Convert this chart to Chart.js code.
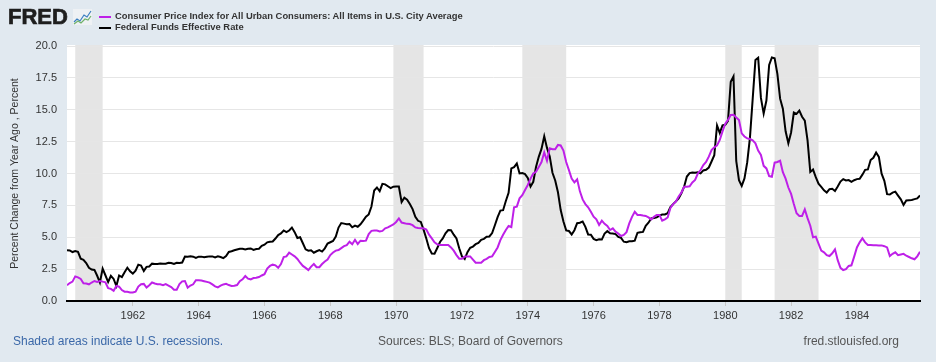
<!DOCTYPE html>
<html>
<head>
<meta charset="utf-8">
<script src="https://cdn.jsdelivr.net/npm/chart.js@4.4.1/dist/chart.umd.min.js"></script>
<style>
  html, body { margin: 0; padding: 0; background: #e1e9f0; }
  #wrap { position: relative; width: 936px; height: 362px; font-family: Arial, "Liberation Sans", sans-serif; }
  #chart { position: absolute; left: 0; top: 0; }
  .logo { position: absolute; left: 8px; top: 4px; font-size: 22px; line-height: 26px; font-weight: bold; color: #1e1e1e; -webkit-text-stroke: 0.7px #1e1e1e; }
  .icon { position: absolute; left: 73px; top: 9px; }
  .leg { position: absolute; left: 99px; font-size: 9.4px; line-height: 11px; font-weight: bold; color: #333; white-space: nowrap; }
  .leg span { display: inline-block; width: 12px; height: 2px; vertical-align: middle; margin-right: 4px; }
  .foot { position: absolute; top: 334px; font-size: 12px; white-space: nowrap; }
</style>
</head>
<body>
<div id="wrap">
  <canvas id="chart" width="936" height="362"></canvas>
  <div class="logo">FRED</div>
  <svg class="icon" width="19" height="16" viewBox="0 0 19 16">
    <rect x="0" y="0" width="19" height="16" fill="#eef1f4"/>
    <polyline points="1,13 4,10 7,12 11,6 14,8 18,2" fill="none" stroke="#3a7fc1" stroke-width="1.2"/>
    <polyline points="1,15 5,12 8,14 12,10 15,11 18,7" fill="none" stroke="#6fb26a" stroke-width="1.2"/>
  </svg>
  <div class="leg" style="top:10px"><span style="background:rgb(190,32,232)"></span>Consumer Price Index for All Urban Consumers: All Items in U.S. City Average</div>
  <div class="leg" style="top:21px"><span style="background:#000"></span>Federal Funds Effective Rate</div>
  <div class="foot" style="left:13px; color:#3b68a8">Shaded areas indicate U.S. recessions.</div>
  <div class="foot" style="left:378px; color:#555">Sources: BLS; Board of Governors</div>
  <div class="foot" style="right:37px; color:#555">fred.stlouisfed.org</div>
</div>
<script>
const startYear = 1960;

// CPI, percent change from year ago, monthly 1960-1985
const cpiYoY = [
  1.24, 1.41, 1.52, 1.93, 1.85, 1.73, 1.39, 1.37, 1.31, 1.45, 1.57, 1.50,
  1.57, 1.52, 1.46, 1.00, 0.95, 0.80, 1.18, 1.12, 0.86, 0.73, 0.73, 0.67,
  0.67, 0.73, 1.13, 1.31, 1.34, 1.05, 1.24, 1.45, 1.37, 1.31, 1.31, 1.24,
  1.32, 1.21, 1.09, 0.89, 0.89, 1.32, 1.54, 1.57, 1.05, 1.21, 1.31, 1.63,
  1.63, 1.60, 1.55, 1.50, 1.44, 1.30, 1.15, 1.07, 1.20, 1.30, 1.35, 1.25,
  1.18, 1.20, 1.25, 1.55, 1.70, 1.96, 1.75, 1.70, 1.80, 1.82, 1.88, 2.00,
  2.10, 2.55, 2.75, 2.85, 2.80, 2.60, 2.90, 3.45, 3.50, 3.79, 3.65, 3.50,
  3.30, 3.00, 2.75, 2.60, 2.43, 2.70, 2.90, 2.65, 2.65, 2.90, 3.10, 3.25,
  3.60, 3.80, 3.95, 4.00, 4.15, 4.30, 4.38, 4.65, 4.45, 4.80, 4.47, 4.73,
  4.70, 4.73, 5.25, 5.50, 5.52, 5.52, 5.45, 5.50, 5.70, 5.77, 5.90, 6.00,
  6.20, 6.48, 6.15, 6.10, 6.05, 6.04, 5.95, 5.77, 5.72, 5.70, 5.70, 5.60,
  5.20, 4.91, 4.60, 4.44, 4.40, 4.40, 4.39, 4.39, 4.20, 3.95, 3.60, 3.32,
  3.32, 3.50, 3.50, 3.50, 3.25, 3.00, 3.00, 3.00, 3.20, 3.30, 3.45, 3.50,
  3.85, 4.20, 4.78, 5.20, 5.57, 5.88, 5.80, 7.35, 7.40, 8.05, 8.30, 8.70,
  9.10, 9.60, 10.00, 10.14, 10.50, 10.90, 11.66, 11.00, 11.97, 11.90, 11.90, 12.24,
  12.20, 11.80, 10.90, 10.27, 9.60, 9.30, 9.54, 8.60, 7.97, 7.60, 7.35, 7.00,
  6.61, 6.40, 5.96, 6.30, 6.05, 5.88, 5.57, 5.70, 5.44, 5.30, 5.10, 5.18,
  5.40, 6.09, 6.60, 7.00, 6.75, 6.75, 6.70, 6.67, 6.56, 6.40, 6.60, 6.75,
  6.75, 6.30, 6.40, 6.55, 7.30, 7.60, 7.80, 8.20, 8.50, 8.96, 8.96, 9.00,
  9.30, 9.49, 10.00, 10.27, 10.66, 10.90, 11.32, 11.84, 12.05, 12.20, 12.63, 13.30,
  13.90, 14.20, 14.59, 14.60, 14.40, 14.20, 13.15, 12.90, 12.75, 12.70, 12.60, 12.37,
  11.80, 11.45, 10.60, 10.40, 9.80, 9.75, 10.85, 10.90, 11.00, 10.10, 9.60, 8.90,
  8.40, 7.60, 6.88, 6.67, 6.67, 7.19, 6.50, 5.90, 5.00, 5.05, 4.50, 3.95,
  3.82, 3.60, 3.53, 3.74, 4.05, 3.20, 2.60, 2.43, 2.50, 2.75, 2.80, 3.48,
  4.20, 4.60, 4.92, 4.60, 4.39, 4.39, 4.38, 4.37, 4.36, 4.36, 4.30, 4.20,
  3.53, 3.70, 3.82, 3.60, 3.65, 3.70, 3.55, 3.45, 3.35, 3.27, 3.50, 3.87
];

// Federal funds effective rate, percent, monthly 1960-1985
const fedFunds = [
  3.99, 3.97, 3.84, 3.92, 3.85, 3.32, 3.23, 2.98, 2.60, 2.47, 2.44, 1.98,
  1.45, 2.54, 2.02, 1.49, 1.98, 1.73, 1.17, 2.00, 1.88, 2.26, 2.61, 2.33,
  2.15, 2.37, 2.85, 2.78, 2.36, 2.68, 2.71, 2.93, 2.90, 2.90, 2.94, 2.93,
  2.92, 3.00, 2.98, 2.90, 3.00, 2.99, 3.02, 3.49, 3.48, 3.50, 3.48, 3.38,
  3.48, 3.48, 3.43, 3.47, 3.50, 3.50, 3.42, 3.50, 3.45, 3.36, 3.52, 3.85,
  3.90, 3.98, 4.04, 4.09, 4.10, 4.04, 4.09, 4.12, 4.01, 4.08, 4.10, 4.32,
  4.42, 4.60, 4.65, 4.67, 4.90, 5.17, 5.30, 5.53, 5.40, 5.53, 5.76, 5.40,
  4.94, 5.00, 4.53, 4.05, 3.94, 3.98, 3.79, 3.90, 3.99, 3.88, 4.13, 4.51,
  4.61, 4.71, 5.05, 5.76, 6.11, 6.07, 6.02, 6.03, 5.78, 5.91, 5.82, 6.02,
  6.30, 6.61, 6.79, 7.41, 8.67, 8.90, 8.61, 9.19, 9.15, 9.00, 8.85, 8.97,
  8.98, 8.98, 7.76, 8.10, 7.95, 7.61, 7.21, 6.61, 6.29, 6.20, 5.60, 4.90,
  4.14, 3.72, 3.71, 4.16, 4.63, 4.91, 5.31, 5.56, 5.55, 5.20, 4.91, 4.14,
  3.50, 3.29, 3.83, 4.17, 4.27, 4.46, 4.55, 4.80, 4.87, 5.04, 5.06, 5.33,
  5.94, 6.58, 7.09, 7.12, 7.84, 8.49, 10.40, 10.50, 10.78, 10.01, 10.03, 9.95,
  9.65, 8.97, 9.35, 10.51, 11.31, 11.93, 12.92, 12.01, 11.34, 10.06, 9.45, 8.53,
  7.13, 6.24, 5.54, 5.49, 5.22, 5.55, 6.10, 6.14, 6.24, 5.82, 5.22, 5.20,
  4.87, 4.77, 4.84, 4.82, 5.29, 5.48, 5.31, 5.29, 5.25, 5.02, 4.95, 4.65,
  4.61, 4.68, 4.69, 4.73, 5.35, 5.39, 5.42, 5.90, 6.14, 6.47, 6.51, 6.56,
  6.70, 6.78, 6.79, 6.89, 7.36, 7.60, 7.81, 8.04, 8.45, 8.96, 9.76, 10.03,
  10.07, 10.06, 10.09, 10.01, 10.24, 10.29, 10.47, 10.94, 11.43, 13.77, 13.18, 13.78,
  13.82, 14.13, 17.19, 17.61, 10.98, 9.47, 9.03, 9.61, 10.87, 12.81, 15.85, 18.90,
  19.08, 15.93, 14.70, 15.72, 18.52, 19.10, 19.04, 17.82, 15.87, 15.08, 13.31, 12.37,
  13.22, 14.78, 14.68, 14.94, 14.45, 14.15, 12.59, 10.12, 10.31, 9.71, 9.20, 8.95,
  8.68, 8.51, 8.77, 8.80, 8.63, 8.98, 9.37, 9.56, 9.45, 9.48, 9.34, 9.47,
  9.56, 9.59, 9.91, 10.29, 10.32, 11.06, 11.23, 11.64, 11.30, 9.99, 9.43, 8.38,
  8.35, 8.50, 8.58, 8.27, 7.97, 7.53, 7.88, 7.90, 7.92, 7.99, 8.05, 8.27
];

// recessions as decimal years (start, end)
const recessionStart = [1960 + 3/12, 1969 + 11/12, 1973 + 10/12, 1980, 1981 + 6/12];
const recessionEnd   = [1961 + 1/12, 1970 + 10/12, 1975 + 2/12, 1980 + 6/12, 1982 + 10/12];

const yearTicks = [1962, 1964, 1966, 1968, 1970, 1972, 1974, 1976, 1978, 1980, 1982, 1984];

const toPoints = arr => arr.map((v, i) => ({ x: startYear + i / 12, y: v }));

const plotBg = {
  id: 'plotBg',
  beforeDraw(chart) {
    const { ctx, chartArea: a, scales } = chart;
    ctx.save();
    ctx.fillStyle = '#ffffff';
    ctx.fillRect(a.left, a.top - 1, a.right - a.left, a.bottom - a.top + 1);
    ctx.fillStyle = '#e5e5e5';
    recessionStart.forEach((s, i) => {
      const x1 = scales.x.getPixelForValue(s);
      const x2 = scales.x.getPixelForValue(recessionEnd[i]);
      ctx.fillRect(x1, a.top - 1, x2 - x1, a.bottom - a.top + 1);
    });
    ctx.restore();
  }
};

const ctx = document.getElementById('chart').getContext('2d');
Chart.defaults.font.family = 'Arial, "Liberation Sans", sans-serif';

new Chart(ctx, {
  type: 'line',
  data: {
    datasets: [
      {
        label: 'Consumer Price Index for All Urban Consumers: All Items in U.S. City Average',
        data: toPoints(cpiYoY),
        borderColor: 'rgb(190,32,232)',
        borderWidth: 2,
        pointRadius: 0,
        tension: 0
      },
      {
        label: 'Federal Funds Effective Rate',
        data: toPoints(fedFunds),
        borderColor: '#000000',
        borderWidth: 2,
        pointRadius: 0,
        tension: 0
      }
    ]
  },
  options: {
    responsive: false,
    animation: false,
    layout: { padding: { top: 46, right: 16, left: 9, bottom: 0 } },
    plugins: {
      legend: { display: false },
      tooltip: { enabled: false }
    },
    scales: {
      x: {
        type: 'linear',
        min: startYear,
        max: startYear + (cpiYoY.length - 1) / 12,
        afterBuildTicks: scale => { scale.ticks = yearTicks.map(v => ({ value: v })); },
        afterFit: scale => { scale.height = 61; },
        ticks: {
          callback: v => String(v),
          color: '#333',
          font: { size: 11 },
          maxRotation: 0,
          padding: 3
        },
        grid: { drawOnChartArea: false, color: '#c8c8c8', tickLength: 5 },
        border: { display: true, color: '#000', width: 2 }
      },
      y: {
        min: 0,
        max: 20,
        afterFit: scale => { scale.width = 58; },
        ticks: {
          stepSize: 2.5,
          callback: v => v.toFixed(1),
          color: '#333',
          font: { size: 11 },
          padding: 10
        },
        grid: { color: '#e6e6e6', drawTicks: false },
        border: { display: false },
        title: {
          display: true,
          text: 'Percent Change from Year Ago , Percent',
          color: '#333',
          font: { size: 10.5 },
          padding: { top: 0, bottom: 4 }
        }
      }
    }
  },
  plugins: [plotBg]
});
</script>
</body>
</html>
